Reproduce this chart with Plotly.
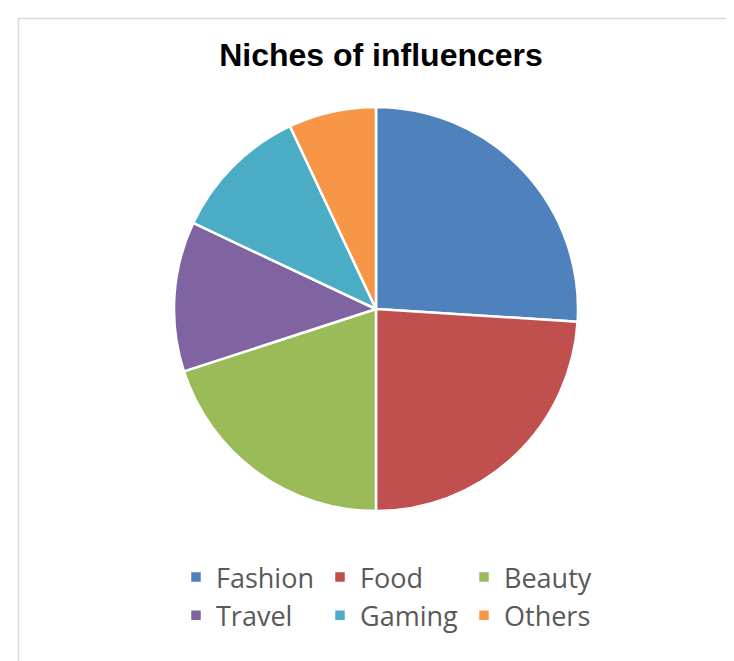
import plotly.graph_objects as go

categories = ["Fashion", "Food", "Beauty", "Travel", "Gaming", "Others"]
shares = [26, 24, 20, 12, 11, 7]
colors = ["#4F81BD", "#C0504D", "#9BBB59", "#8064A2", "#4BACC6", "#F79646"]

W, H = 734, 661
ML, MR, MT, MB = 118, 116, 60, 20
pw, ph = W - ML - MR, H - MT - MB

def px_x(x):
    return (x - ML) / pw

def px_y(y):
    return (H - MB - y) / ph

fig = go.Figure(go.Pie(
    labels=categories,
    values=shares,
    marker=dict(colors=colors, line=dict(color="white", width=2.5)),
    sort=False,
    direction="clockwise",
    rotation=0,
    textinfo="none",
    hoverinfo="label+percent",
    domain=dict(x=[0, 1], y=[px_y(503), px_y(99)]),
))

fig.update_layout(
    width=W, height=H,
    margin=dict(l=ML, r=MR, t=MT, b=MB, autoexpand=False),
    paper_bgcolor="white",
    plot_bgcolor="white",
    title=dict(
        text="<b>Niches of influencers</b>",
        x=px_x(373), xanchor="center", xref="paper",
        y=1 - 47 / H, yanchor="middle",
        font=dict(family="Liberation Sans Narrow, Liberation Sans, Arial", size=32, color="black"),
    ),
    legend=dict(
        orientation="h",
        x=px_x(168), xanchor="left",
        y=px_y(545), yanchor="top",
        font=dict(family="Open Sans", size=27, color="#595959"),
        entrywidth=99,
        entrywidthmode="pixels",
        itemclick=False,
        traceorder="normal",
    ),
    shapes=[dict(
        type="rect", xref="paper", yref="paper",
        x0=px_x(10.5), x1=px_x(760), y0=px_y(700), y1=px_y(10.5),
        line=dict(color="#d9d9d9", width=1.5), fillcolor="rgba(0,0,0,0)",
        layer="below",
    )],
)

fig.write_html("out.html")
